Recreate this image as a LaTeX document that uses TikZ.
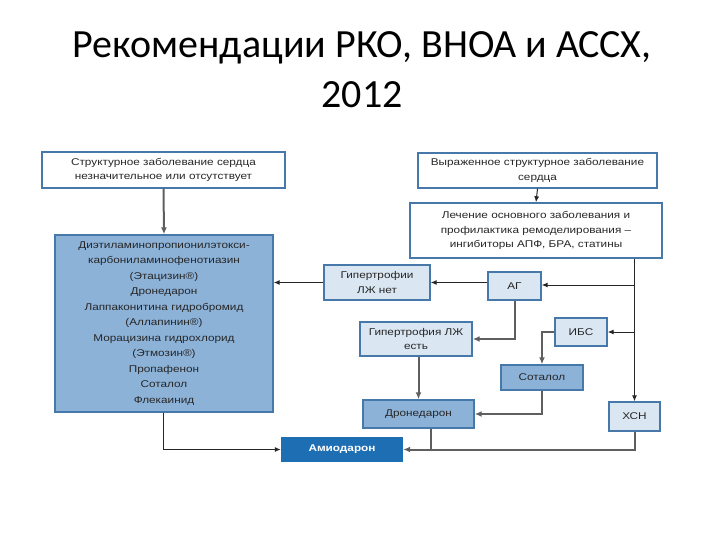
\documentclass[tikz,border=0pt]{standalone}
\usepackage{fontspec}
\setmainfont{Liberation Sans}
\newfontfamily\boxfont[FakeStretch=1.2]{Liberation Sans}
\newfontfamily\titlefont{Carlito}
\usetikzlibrary{arrows.meta}
\definecolor{bdr}{RGB}{70,120,170}
\definecolor{lightfill}{RGB}{218,230,242}
\definecolor{midfill}{RGB}{140,178,216}
\definecolor{darkfill}{RGB}{30,110,180}
\definecolor{gline}{RGB}{95,95,95}
\tikzset{
  base/.style={draw=bdr, line width=1.4pt, align=center, inner sep=1pt, font=\boxfont\fontsize{9.8}{14.5}\selectfont, text=black!85},
  whitebox/.style={base, fill=white},
  lightbox/.style={base, fill=lightfill},
  midbox/.style={base, fill=midfill},
  darkbox/.style={draw=none, fill=darkfill, text=white, font=\boxfont\bfseries\fontsize{9.8}{12}\selectfont, align=center},
  blk/.style={draw=black!85, line width=1pt, -{Latex[length=6pt,width=5pt]}},
  gry/.style={draw=gline, line width=2pt, -{Latex[length=7pt,width=6pt]}},
}
\begin{document}
\begin{tikzpicture}[x=1pt,y=-1pt]
\useasboundingbox (0,0) rectangle (720,540);
\node[font=\titlefont\fontsize{40}{50}\selectfont, align=center] (title) at (362,70) {Рекомендации РКО, ВНОА и АССХ,\\2012};

\node[whitebox, minimum width=243, minimum height=36] (A) at (163.5,170) {Структурное заболевание сердца\\незначительное или отсутствует};
\node[midbox, minimum width=218, minimum height=177, font=\boxfont\fontsize{9.8}{15.5}\selectfont] (B) at (164,323.5) {Диэтиламинопропионилэтокси-\\карбониламинофенотиазин\\(Этацизин®)\\Дронедарон\\Лаппаконитина гидробромид\\(Аллапинин®)\\Морацизина гидрохлорид\\(Этмозин®)\\Пропафенон\\Соталол\\Флекаинид};
\node[whitebox, minimum width=239, minimum height=35] (C) at (537.5,170.5) {Выраженное структурное заболевание\\сердца};
\node[whitebox, minimum width=252, minimum height=55] (D) at (536,230.5) {Лечение основного заболевания  и\\профилактика ремоделирования –\\ингибиторы АПФ, БРА, статины};
\node[lightbox, minimum width=106, minimum height=35] (E) at (377,282.5) {Гипертрофии\\ЛЖ нет};
\node[lightbox, minimum width=53, minimum height=28] (F) at (514.5,286) {АГ};
\node[lightbox, minimum width=112, minimum height=34] (G) at (416,339) {Гипертрофия ЛЖ\\есть};
\node[lightbox, minimum width=52, minimum height=28] (H) at (581,332) {ИБС};
\node[midbox, minimum width=82, minimum height=25] (I) at (542,377.5) {Соталол};
\node[midbox, minimum width=111, minimum height=28] (J) at (418.5,414) {Дронедарон};
\node[lightbox, minimum width=51, minimum height=29] (K) at (634.5,416.5) {ХСН};
\node[darkbox, minimum width=122, minimum height=25] (L) at (342,449.5) {Амиодарон};

\coordinate (jF) at (634,285);
\coordinate (jH) at (634,332);

\draw[gry] (A.south) -- (B.north);
\draw[blk] (C.south) -- (D.north);
\draw[blk] (D.south -| K.north) -- (K.north);
\draw[blk] (jF) -- (F.east |- jF);
\draw[blk] (jH) -- (H.east |- jH);
\draw[blk] (F.west |- E.east) -- (E.east);
\draw[blk] (E.west) -- (B.east |- E.west);
\draw[gry] (F.south) |- (G.east);
\draw[gry] (H.west) -| (I.north);
\draw[gry] (G.south -| J.north) -- (J.north);
\draw[gry] (I.south) |- (J.east);
\draw[gry] (K.south) |- (L.east);
\draw[gry, -] ([xshift=12pt]J.south) -- ([xshift=12pt]J.south |- L.east);
\draw[blk] ([xshift=-1pt]B.south) |- (L.west);
\end{tikzpicture}
\end{document}
